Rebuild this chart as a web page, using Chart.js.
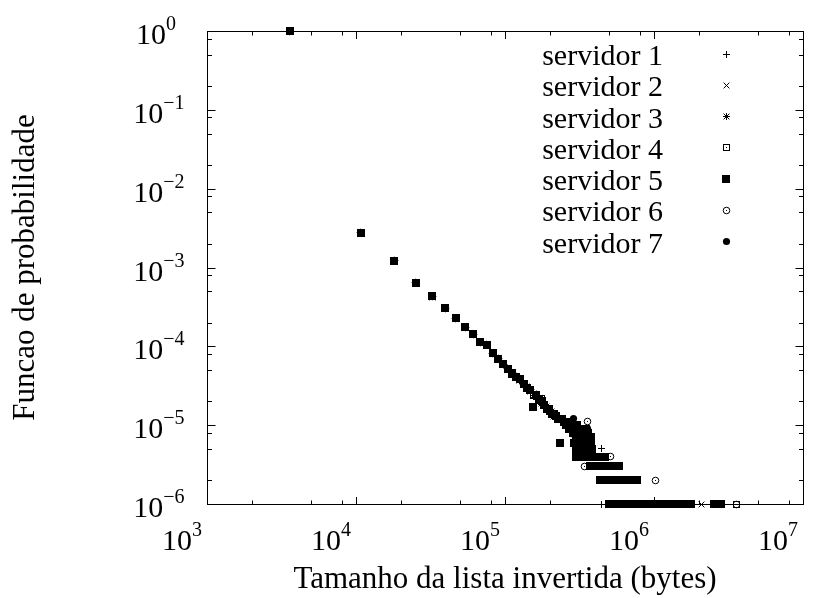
<!DOCTYPE html>
<html lang="pt">
<head>
<meta charset="utf-8">
<title>Funcao de probabilidade</title>
<script src="https://cdn.jsdelivr.net/npm/chart.js@4.4.1/dist/chart.umd.min.js"></script>
<style>
  html, body { margin: 0; padding: 0; background: #fff; }
  canvas { display: block; }
</style>
</head>
<body>
<canvas id="chart" width="826" height="598"></canvas>
<script>
// ---------------------------------------------------------------------------
// Data: probability of each inverted-list size, one series per server
// ---------------------------------------------------------------------------
const serverNames = ['servidor 1', 'servidor 2', 'servidor 3', 'servidor 4',
                     'servidor 5', 'servidor 6', 'servidor 7'];

// list sizes (bytes) of the first size classes, shared by every server
const headSizes = [3600, 10800, 18000, 25200, 32400, 39600, 46800, 54000, 61200,
                   68400, 75600, 82800, 90000, 97200, 104400, 111600, 118800,
                   126000, 133200, 140400, 147600, 154800, 162000, 169200,
                   176400, 183600, 190800, 198000, 205200, 212400, 219600];

// probabilities for the size classes above
const head1 = [0.99, 2.72e-3, 1.2e-3, 6.5e-4, 4.3e-4, 3.0e-4, 2.28e-4, 1.75e-4, 1.41e-4,
               1.13e-4, 1.04e-4, 8.3e-5, 7.0e-5, 6.0e-5, 5.2e-5, 4.6e-5, 4.1e-5,
               3.7e-5, 3.3e-5, 3.0e-5, 2.8e-5, 1.7e-5, 2.4e-5, 2.1e-5,
               2.0e-5, 1.8e-5, 1.6e-5, 1.6e-5, 1.4e-5, 1.4e-5, 1.3e-5];
const head2 = [0.99, 2.75e-3, 1.22e-3, 6.4e-4, 4.2e-4, 3.05e-4, 2.26e-4, 1.73e-4, 1.43e-4,
               1.11e-4, 1.05e-4, 8.1e-5, 7.1e-5, 5.9e-5, 5.1e-5, 4.5e-5, 4.0e-5,
               3.8e-5, 3.4e-5, 3.0e-5, 2.7e-5, 2.4e-5, 2.3e-5, 2.1e-5,
               2.0e-5, 1.8e-5, 1.7e-5, 1.6e-5, 1.5e-5, 1.4e-5, 1.3e-5];
const head3 = [0.99, 2.73e-3, 1.21e-3, 6.3e-4, 4.3e-4, 3.0e-4, 2.27e-4, 1.76e-4, 1.42e-4,
               1.12e-4, 1.04e-4, 8.2e-5, 6.9e-5, 5.9e-5, 5.2e-5, 4.5e-5, 4.1e-5,
               3.7e-5, 3.3e-5, 3.1e-5, 2.8e-5, 2.5e-5, 2.3e-5, 2.1e-5,
               1.9e-5, 1.8e-5, 1.6e-5, 1.5e-5, 1.4e-5, 1.3e-5, 1.3e-5];
const head4 = [0.99, 2.74e-3, 1.2e-3, 6.4e-4, 4.3e-4, 3.02e-4, 2.28e-4, 1.74e-4, 1.42e-4,
               1.12e-4, 1.05e-4, 8.3e-5, 7.0e-5, 5.9e-5, 5.2e-5, 4.6e-5, 4.1e-5,
               3.8e-5, 3.3e-5, 3.0e-5, 2.8e-5, 2.4e-5, 2.3e-5, 2.1e-5,
               2.0e-5, 1.8e-5, 1.6e-5, 1.5e-5, 1.4e-5, 1.4e-5, 1.3e-5];
const head5 = [0.99, 2.74e-3, 1.21e-3, 6.4e-4, 4.3e-4, 3.03e-4, 2.27e-4, 1.74e-4, 1.42e-4,
               1.12e-4, 1.05e-4, 8.2e-5, 7.0e-5, 5.9e-5, 5.2e-5, 4.5e-5, 4.1e-5,
               3.8e-5, 3.3e-5, 3.0e-5, 2.8e-5, 1.7e-5, 2.4e-5, 2.1e-5,
               2.0e-5, 1.8e-5, 1.6e-5, 1.6e-5, 1.4e-5, 1.4e-5, 1.3e-5];
const head6 = [0.99, 2.74e-3, 1.21e-3, 6.4e-4, 4.3e-4, 3.03e-4, 2.27e-4, 1.74e-4, 1.42e-4,
               1.12e-4, 1.05e-4, 8.2e-5, 7.0e-5, 5.9e-5, 5.2e-5, 4.5e-5, 4.1e-5,
               3.8e-5, 3.3e-5, 3.0e-5, 2.8e-5];
const head7 = [0.99, 2.74e-3, 1.21e-3, 6.4e-4, 4.3e-4, 3.03e-4, 2.27e-4, 1.74e-4, 1.42e-4,
               1.12e-4, 1.05e-4, 8.2e-5, 7.0e-5, 5.9e-5, 5.2e-5, 4.5e-5, 4.1e-5,
               3.8e-5, 3.3e-5, 3.0e-5, 2.8e-5];

// large lists: few occurrences each, so the probabilities come in steps of 1e-6
const tail1Sizes = [270000, 320000, 446000, 446000];
const tail1Prob  = [1.0e-5, 8e-6, 5e-6, 1e-6];
const tail2Sizes = [284000, 366000, 600000, 1100000, 2070000];
const tail2Prob  = [9e-6, 7e-6, 2e-6, 1e-6, 1e-6];
const tail3Sizes = [262000, 306000, 400000, 520000, 1300000];
const tail3Prob  = [1.1e-5, 8e-6, 3e-6, 2e-6, 1e-6];
const tail4Sizes = [175000, 298000, 420000, 800000, 3590000];
const tail4Prob  = [2.2e-5, 7e-6, 4e-6, 1e-6, 1e-6];
const tail5Sizes = [
  227000, 241000,
  248000, 262000,
  255000, 277000, 306000,
  270000, 291000, 320000, 348000,
  284000, 313000, 341000, 363000,
  298000, 327000, 355000, 377000,
  234000, 291000, 320000, 348000, 377000,
  300000, 320000, 341000, 363000, 384000,
  300000, 320000, 341000, 363000, 384000, 406000, 428000, 450000, 471000,
  370000, 392000, 414000, 435000, 457000, 486000, 514000, 543000, 572000, 586000,
  435000, 457000, 486000, 514000, 543000, 579000, 615000, 651000, 687000, 731000, 774000,
  500000, 529000, 558000, 594000, 630000, 666000, 702000, 745000, 788000, 832000,
  882000, 932000, 986000, 1040000, 1100000, 1160000, 1230000, 1300000, 1370000,
  1450000, 1530000, 1620000, 1700000, 1770000, 2530000, 2820000];
const tail5Prob = [
  1.2e-5, 1.2e-5,
  1.1e-5, 1.1e-5,
  1.0e-5, 1.0e-5, 1.0e-5,
  9e-6, 9e-6, 9e-6, 9e-6,
  8e-6, 8e-6, 8e-6, 8e-6,
  7e-6, 7e-6, 7e-6, 7e-6,
  6e-6, 6e-6, 6e-6, 6e-6, 6e-6,
  5e-6, 5e-6, 5e-6, 5e-6, 5e-6,
  4e-6, 4e-6, 4e-6, 4e-6, 4e-6, 4e-6, 4e-6, 4e-6, 4e-6,
  3e-6, 3e-6, 3e-6, 3e-6, 3e-6, 3e-6, 3e-6, 3e-6, 3e-6, 3e-6,
  2e-6, 2e-6, 2e-6, 2e-6, 2e-6, 2e-6, 2e-6, 2e-6, 2e-6, 2e-6, 2e-6,
  1e-6, 1e-6, 1e-6, 1e-6, 1e-6, 1e-6, 1e-6, 1e-6, 1e-6, 1e-6,
  1e-6, 1e-6, 1e-6, 1e-6, 1e-6, 1e-6, 1e-6, 1e-6, 1e-6,
  1e-6, 1e-6, 1e-6, 1e-6, 1e-6, 1e-6, 1e-6];
const tail6Sizes = [357000, 344000, 507000, 1020000, 3590000, 298000];
const tail6Prob  = [1.1e-5, 3e-6, 4e-6, 2e-6, 1e-6, 7e-6];
const tail7Sizes = [290000, 357000, 320000];
const tail7Prob  = [1.2e-5, 9e-6, 6e-6];

// axis tick labels (powers of ten) and minor tick multipliers
const xTickExponents = ['3', '4', '5', '6', '7'];
const yTickExponents = ['0', '\u22121', '\u22122', '\u22123', '\u22124', '\u22125', '\u22126'];
const minorMultipliers = [2, 5, 8];

const xTitle = 'Tamanho da lista invertida (bytes)';
const yTitle = 'Funcao de probabilidade';

// ---------------------------------------------------------------------------
// Point symbols
// ---------------------------------------------------------------------------
function markerCanvas(kind) {
  const c = document.createElement('canvas');
  const s = kind === 'box' ? 8 : 9;
  c.width = s; c.height = s;
  const g = c.getContext('2d');
  g.strokeStyle = '#000'; g.fillStyle = '#000'; g.lineWidth = 1;
  const m = s / 2;
  g.beginPath();
  if (kind === 'plus' || kind === 'star') {
    g.moveTo(1, m); g.lineTo(8, m); g.moveTo(m, 1); g.lineTo(m, 8);
  }
  if (kind === 'cross' || kind === 'star') {
    g.moveTo(1.6, 1.6); g.lineTo(7.4, 7.4); g.moveTo(7.4, 1.6); g.lineTo(1.6, 7.4);
  }
  g.stroke();
  if (kind === 'boxDot') { g.strokeRect(1.5, 1.5, 6, 6); g.fillRect(4, 4, 1, 1); }
  if (kind === 'box') { g.fillRect(0, 0, 8, 8); }
  if (kind === 'circleDot') {
    g.beginPath(); g.arc(m, m, 3.3, 0, 2 * Math.PI); g.stroke(); g.fillRect(4, 4, 1, 1);
  }
  if (kind === 'disc') { g.beginPath(); g.arc(m, m, 3.6, 0, 2 * Math.PI); g.fill(); }
  return c;
}
const markers = ['plus', 'cross', 'star', 'boxDot', 'box', 'circleDot', 'disc'].map(markerCanvas);

function points(head, tailSizes, tailProb) {
  const pts = head.map((p, i) => ({ x: headSizes[i], y: p }));
  tailSizes.forEach((s, i) => pts.push({ x: s, y: tailProb[i] }));
  return pts;
}
const series = [
  points(head1, tail1Sizes, tail1Prob),
  points(head2, tail2Sizes, tail2Prob),
  points(head3, tail3Sizes, tail3Prob),
  points(head4, tail4Sizes, tail4Prob),
  points(head5, tail5Sizes, tail5Prob),
  points(head6, tail6Sizes, tail6Prob),
  points(head7, tail7Sizes, tail7Prob)
];

// ---------------------------------------------------------------------------
// Frame, ticks, labels and key
// ---------------------------------------------------------------------------
const SERIF = '"Liberation Serif", "Times New Roman", serif';
const BASE_FONT = '30px ' + SERIF;
const SUP_FONT = '20px ' + SERIF;
const TITLE_FONT = '31px ' + SERIF;
const expValue = e => Math.pow(10, Number(e.replace('\u2212', '-')));
const crisp = v => Math.round(v) + 0.5;

const framePlugin = {
  id: 'frame',
  beforeDatasetsDraw(chart) {
    const ctx = chart.ctx, a = chart.chartArea;
    const xs = chart.scales.x, ys = chart.scales.y;
    ctx.save();
    ctx.strokeStyle = '#000';
    ctx.lineWidth = 1;
    const L = crisp(a.left), R = crisp(a.right), T = crisp(a.top), B = crisp(a.bottom);
    ctx.strokeRect(L, T, R - L, B - T);
    ctx.beginPath();
    // x ticks, mirrored on top
    xTickExponents.forEach(e => {
      const base = expValue(e);
      [1].concat(minorMultipliers).forEach(m => {
        const v = base * m;
        if (v > xs.max * 1.0001) return;
        const px = crisp(xs.getPixelForValue(v));
        const len = m === 1 ? 7.5 : 4;
        ctx.moveTo(px, B); ctx.lineTo(px, B - len);
        ctx.moveTo(px, T); ctx.lineTo(px, T + len);
      });
    });
    // y ticks, mirrored on the right
    yTickExponents.forEach(e => {
      const base = expValue(e);
      [1].concat(minorMultipliers).forEach(m => {
        const v = base * m;
        if (v > ys.max * 1.0001) return;
        const py = crisp(ys.getPixelForValue(v));
        const len = m === 1 ? 8 : 4.5;
        ctx.moveTo(L, py); ctx.lineTo(L + len, py);
        ctx.moveTo(R, py); ctx.lineTo(R - len, py);
      });
    });
    ctx.stroke();
    ctx.restore();
    // keep the point symbols pixel-sharp
    ctx.imageSmoothingEnabled = false;
  },
  afterDatasetsDraw(chart) {
    chart.ctx.imageSmoothingEnabled = true;
  },
  afterDraw(chart) {
    const ctx = chart.ctx, a = chart.chartArea;
    const xs = chart.scales.x, ys = chart.scales.y;
    ctx.save();
    ctx.fillStyle = '#000';
    ctx.textBaseline = 'alphabetic';
    ctx.textAlign = 'left';

    // x tick labels, set slightly to the left of their ticks
    xTickExponents.forEach(e => {
      const px = xs.getPixelForValue(expValue(e));
      ctx.font = BASE_FONT; const w1 = ctx.measureText('10').width;
      ctx.font = SUP_FONT; const w2 = ctx.measureText(e).width;
      const left = px - (w1 + w2) / 2 - 25;
      ctx.font = BASE_FONT; ctx.fillText('10', left, a.bottom + 46);
      ctx.font = SUP_FONT; ctx.fillText(e, left + w1, a.bottom + 32);
    });

    // y tick labels
    yTickExponents.forEach(e => {
      const py = ys.getPixelForValue(expValue(e));
      const left = e === '0' ? 136 : 133.3;
      ctx.font = BASE_FONT; const w1 = ctx.measureText('10').width;
      ctx.fillText('10', left, py + 13);
      ctx.font = SUP_FONT; ctx.fillText(e, left + w1, py - 1);
    });

    // axis titles
    ctx.font = TITLE_FONT;
    ctx.textAlign = 'center';
    ctx.fillText(xTitle, (a.left + a.right) / 2, 588);
    ctx.save();
    ctx.translate(33.5, (a.top + a.bottom) / 2);
    ctx.rotate(-Math.PI / 2);
    ctx.fillText(yTitle, 0, 0);
    ctx.restore();

    // key: names right-aligned, symbol to the right
    ctx.font = BASE_FONT;
    ctx.textAlign = 'right';
    chart.data.datasets.forEach((ds, i) => {
      const y = 54 + i * 31.28;
      ctx.fillText(ds.label, 663, y + 11);
      const mk = markers[i];
      ctx.drawImage(mk, Math.round(726 - mk.width / 2), Math.round(y - mk.height / 2));
    });
    ctx.restore();
  }
};

new Chart(document.getElementById('chart'), {
  type: 'scatter',
  data: {
    datasets: series.map((pts, i) => ({
      label: serverNames[i],
      data: pts,
      pointStyle: markers[i],
      pointRadius: 4,
      clip: false,
      order: 7 - i
    }))
  },
  options: {
    responsive: false,
    animation: false,
    events: [],
    layout: { padding: { left: 207, top: 31, right: 23, bottom: 94 } },
    plugins: { legend: { display: false }, tooltip: { enabled: false } },
    scales: {
      x: { type: 'logarithmic', min: 1e3, max: 1e7, display: false },
      y: { type: 'logarithmic', min: 1e-6, max: 1, display: false }
    }
  },
  plugins: [framePlugin]
});
</script>
</body>
</html>
